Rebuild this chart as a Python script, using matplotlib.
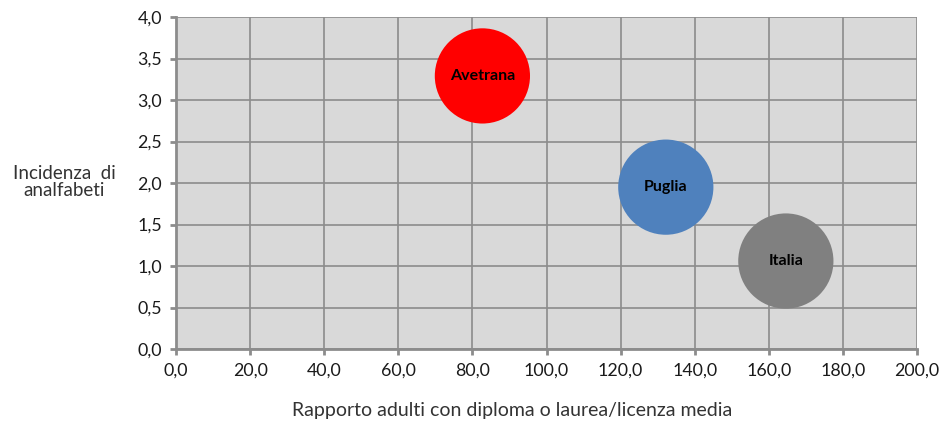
import matplotlib
matplotlib.use("Agg")
import matplotlib.pyplot as plt
from matplotlib.ticker import FuncFormatter, MultipleLocator

names = ["Avetrana", "Puglia", "Italia"]
x_vals = [82.7, 132.2, 164.6]
y_vals = [3.29, 1.95, 1.06]
colors = ["#ff0000", "#4f81bd", "#808080"]
bubble_size = 4700

plt.rcParams['font.family'] = ['Lato', 'DejaVu Sans']

fig = plt.figure(figsize=(9.41, 4.23), dpi=100)
ax = fig.add_axes([176/941, 1-349/423, (917-176)/941, (349-17)/423])
ax.set_facecolor("#d9d9d9")
ax.set_xlim(0, 200)
ax.set_ylim(0, 4)
ax.xaxis.set_major_locator(MultipleLocator(20))
ax.yaxis.set_major_locator(MultipleLocator(0.5))
fmt = FuncFormatter(lambda v, p: f"{v:.1f}".replace(".", ","))
ax.xaxis.set_major_formatter(fmt)
ax.yaxis.set_major_formatter(fmt)
ax.grid(True, color="#8c8c8c", linewidth=1.2)
ax.set_axisbelow(True)
for s in ["top", "right"]:
    ax.spines[s].set_visible(False)
for s in ["left", "bottom"]:
    ax.spines[s].set_color("#8c8c8c")
    ax.spines[s].set_linewidth(2)
ax.tick_params(colors="#8c8c8c", width=2, length=4, labelcolor="#1a1a1a", labelsize=12.8, pad=6)

ax.scatter(x_vals, y_vals, s=bubble_size, c=colors, zorder=3, linewidths=0)
for n, x, y in zip(names, x_vals, y_vals):
    ax.text(x, y, n, ha="center", va="center", fontsize=11.5, fontweight="bold", color="black", zorder=4)

fig.text(512/941, 1-410/423, "Rapporto adulti con diploma o laurea/licenza media",
         ha="center", va="center", fontsize=14, color="#333333")
fig.text(64/941, 1-182/423, "Incidenza  di\nanalfabeti", ha="center", va="center",
         fontsize=13.5, color="#333333", linespacing=1.05)

fig.savefig("out.png", dpi=100)
